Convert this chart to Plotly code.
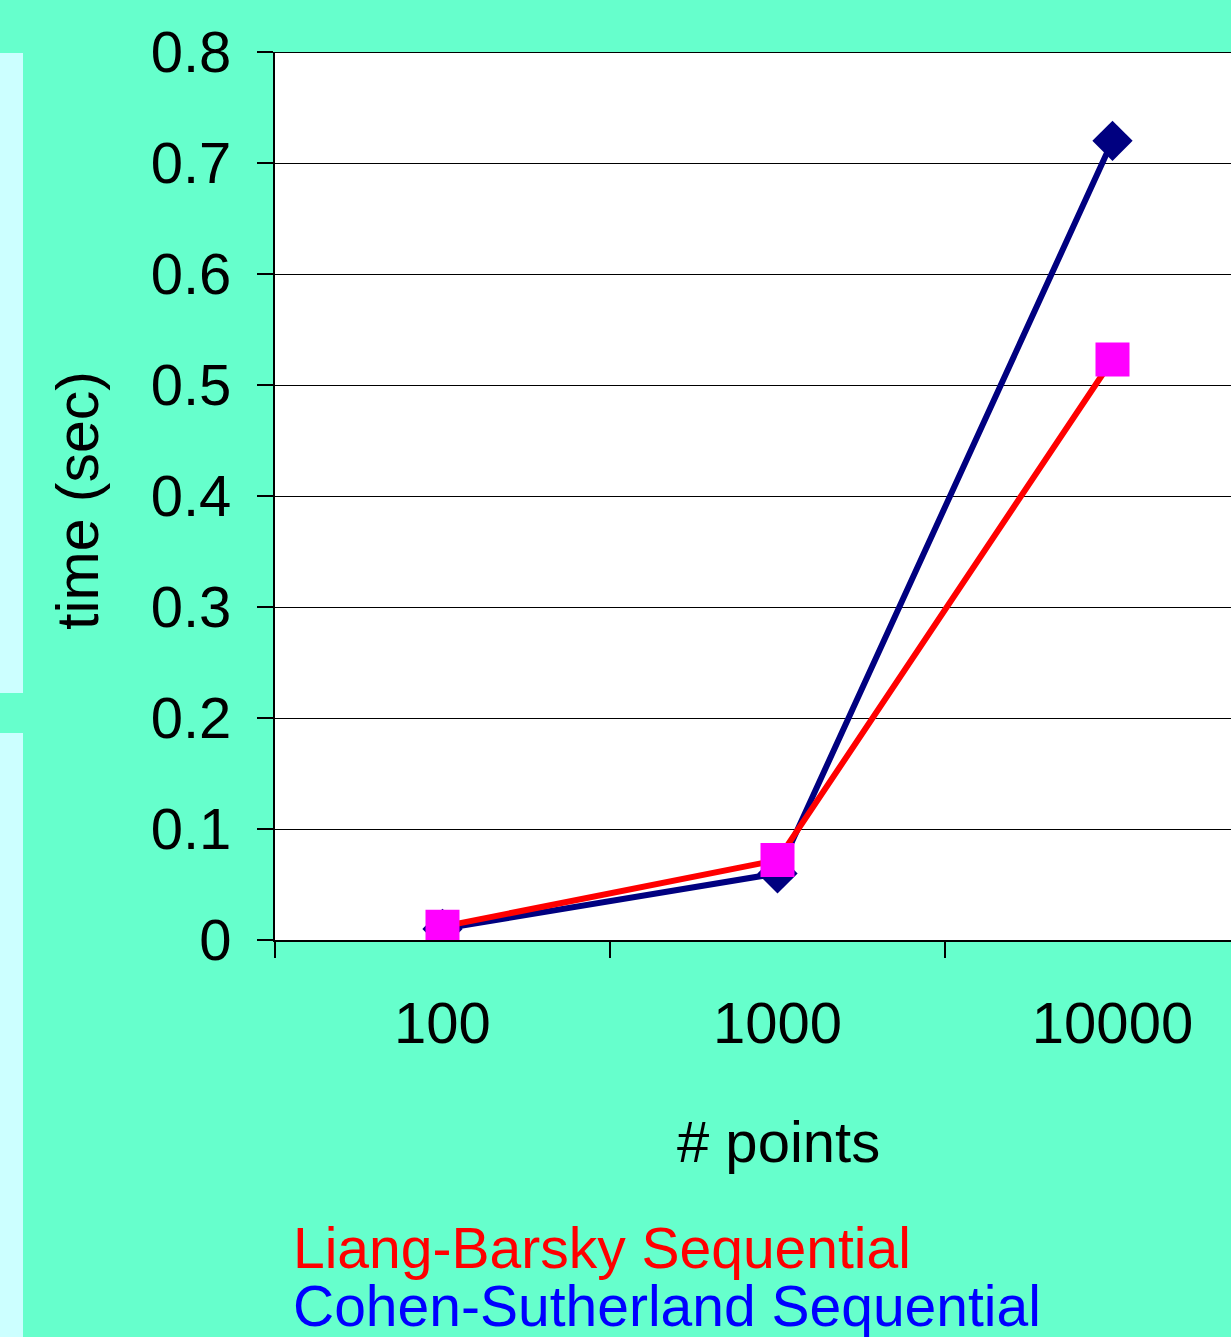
import plotly.graph_objects as go

categories = ["100", "1000", "10000"]
cohen_sutherland = [0.01, 0.06, 0.72]
liang_barsky = [0.012, 0.072, 0.523]
y_ticks = [0, 0.1, 0.2, 0.3, 0.4, 0.5, 0.6, 0.7, 0.8]
y_tick_labels = ["0", "0.1", "0.2", "0.3", "0.4", "0.5", "0.6", "0.7", "0.8"]

FONT = "Liberation Sans, Arial, sans-serif"
TEAL = "#66FFCC"
CYAN = "#CCFFFF"

W, H = 1231, 1337
L, R, T, B = 275, 0, 52, 397
pw, ph = W - L - R, H - T - B

def px_x(x):
    return (x - L) / pw

def px_y(y):
    return (H - B - y) / ph

fig = go.Figure()
fig.add_trace(go.Scatter(
    x=categories, y=cohen_sutherland, mode="lines+markers",
    name="Cohen-Sutherland Sequential",
    line=dict(color="#000080", width=6),
    marker=dict(symbol="diamond", size=31, color="#000080"),
))
fig.add_trace(go.Scatter(
    x=categories, y=liang_barsky, mode="lines+markers",
    name="Liang-Barsky Sequential",
    line=dict(color="#FF0000", width=6),
    marker=dict(symbol="square", size=34, color="#FF00FF"),
))

shapes = [
    dict(type="rect", xref="paper", yref="paper", x0=px_x(0), x1=px_x(23),
         y0=px_y(693), y1=px_y(53), fillcolor=CYAN, line=dict(width=0), layer="below"),
    dict(type="rect", xref="paper", yref="paper", x0=px_x(0), x1=px_x(23),
         y0=px_y(H + 5), y1=px_y(733), fillcolor=CYAN, line=dict(width=0), layer="below"),
    dict(type="line", xref="paper", yref="y", x0=0, x1=1, y0=0.8, y1=0.8,
         line=dict(color="black", width=2)),
]

annotations = [
    dict(text="time (sec)", xref="paper", yref="paper", x=px_x(78), y=px_y(501),
         textangle=-90, showarrow=False, xanchor="center", yanchor="middle",
         font=dict(family=FONT, size=59, color="black")),
    dict(text="# points", xref="paper", yref="paper", x=px_x(778), y=px_y(1141),
         showarrow=False, xanchor="center", yanchor="middle",
         font=dict(family=FONT, size=58, color="black")),
    dict(text="Liang-Barsky Sequential", xref="paper", yref="paper", x=px_x(291), y=px_y(1248),
         showarrow=False, xanchor="left", yanchor="middle",
         font=dict(family=FONT, size=57, color="#FF0000")),
    dict(text="Cohen-Sutherland Sequential", xref="paper", yref="paper", x=px_x(291), y=px_y(1306),
         showarrow=False, xanchor="left", yanchor="middle",
         font=dict(family=FONT, size=57, color="#0000FF")),
]

fig.update_layout(
    width=W, height=H,
    margin=dict(l=L, r=R, t=T, b=B, pad=0),
    paper_bgcolor=TEAL, plot_bgcolor="white",
    showlegend=False,
    shapes=shapes, annotations=annotations,
    font=dict(family=FONT, size=58, color="black"),
    xaxis=dict(
        type="category", categoryorder="array", categoryarray=categories,
        range=[-0.5, -0.5 + pw / 335.0],
        tickson="boundaries", ticks="outside", ticklen=16, tickwidth=2, tickcolor="black",
        showgrid=False, showline=True, linecolor="black", linewidth=2,
        zeroline=False, ticklabelstandoff=31,
        tickfont=dict(family=FONT, size=58, color="black"),
    ),
    yaxis=dict(
        range=[0, 0.8], tickvals=y_ticks, ticktext=y_tick_labels,
        ticks="outside", ticklen=16, tickwidth=2, tickcolor="black",
        showgrid=True, gridcolor="black", gridwidth=1,
        showline=True, linecolor="black", linewidth=2,
        zeroline=False, ticklabelstandoff=14,
        tickfont=dict(family=FONT, size=58, color="black"),
    ),
)

fig.write_html(
    "out.html",
    config={"displayModeBar": False},
    post_script="document.body.style.margin='0';document.body.style.padding='0';"
                "document.body.style.overflow='hidden';document.body.style.background='#66FFCC';",
)
